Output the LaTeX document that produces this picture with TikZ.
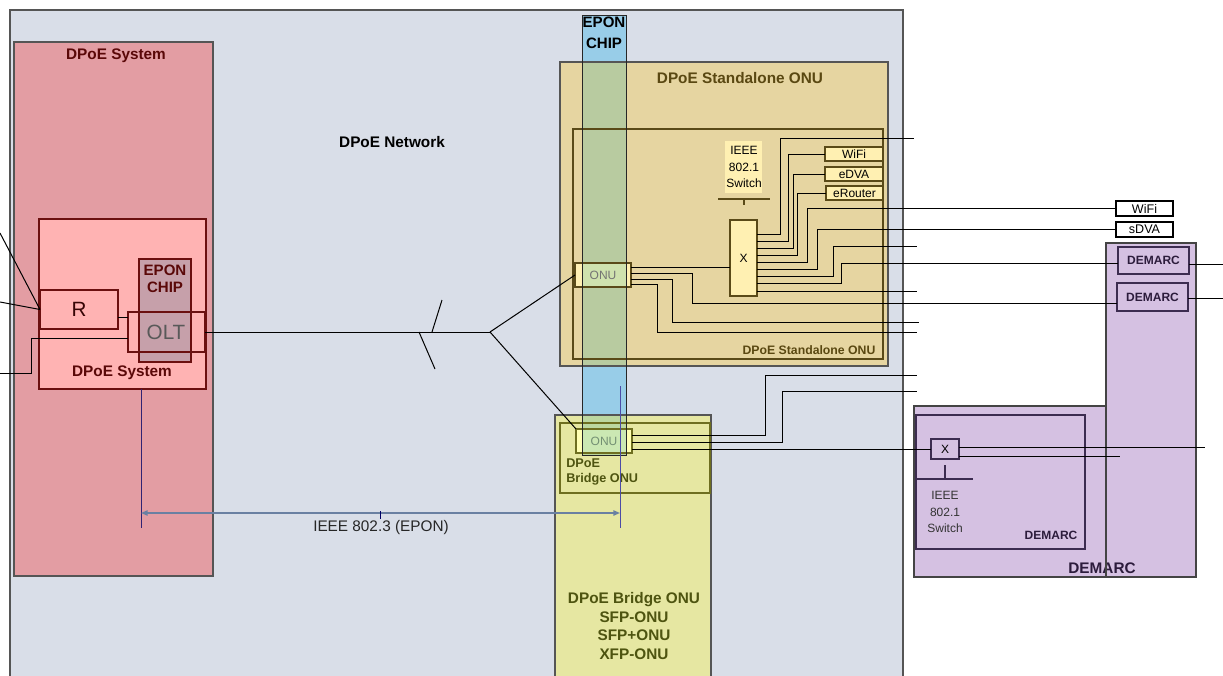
\documentclass[tikz,border=0pt]{standalone}
\usepackage{fontspec}
\setmainfont{Liberation Sans}
\usetikzlibrary{calc,arrows.meta}
\definecolor{frameBG}{HTML}{D9DEE8}
\definecolor{frameBD}{HTML}{555555}
\definecolor{sysOut}{HTML}{E39DA3}
\definecolor{sysIn}{HTML}{FFB3B3}
\definecolor{sysBD}{HTML}{6B1010}
\definecolor{sysTxt}{HTML}{5A0808}
\definecolor{chipLc}{HTML}{C6A0AA}
\definecolor{tanc}{HTML}{E6D5A1}
\definecolor{tanBD}{HTML}{5A4A18}
\definecolor{tanTxt}{HTML}{5A4812}
\definecolor{onuY}{HTML}{FFF0B2}
\definecolor{stripB}{HTML}{98CDE8}
\definecolor{stripG}{HTML}{B8CBA0}
\definecolor{stripGo}{HTML}{CFE2AE}
\definecolor{brY}{HTML}{E6E7A2}
\definecolor{brBD}{HTML}{6E6E20}
\definecolor{brTxt}{HTML}{4E5410}
\definecolor{brONU}{HTML}{FFFFB3}
\definecolor{brONUg}{HTML}{CBE8B3}
\definecolor{stripGb}{HTML}{BCD7A0}
\definecolor{purp}{HTML}{D5C1E2}
\definecolor{purpOBD}{HTML}{444444}
\definecolor{purpBD}{HTML}{3C2C50}
\definecolor{purpTxt}{HTML}{2C1C3C}
\definecolor{dimc}{HTML}{6A80A2}
\newcommand\mybox[6]{\node[#2,inner sep=0pt,outer sep=0pt,minimum width={(#5-#3)*0.75pt},minimum height={(#6-#4)*0.75pt}] (#1) at ({(#3+#5)/2},{(#4+#6)/2}) {};}
\begin{document}
\begin{tikzpicture}[x=0.75pt,y=-0.75pt,
  wire/.style={draw=black,line width=0.75pt},
  lblB/.style={font=\fontsize{11.5}{14}\selectfont\bfseries,inner sep=0pt},
  lblS/.style={font=\fontsize{9.2}{11}\selectfont\bfseries,inner sep=0pt},
  lblN/.style={font=\fontsize{9}{12.6}\selectfont,inner sep=0pt,align=center},
  thinbox/.style={line width=0.8pt}]
\clip (0,0) rectangle (1223,675);
\fill[white] (0,0) rectangle (1223,675);

% network frame
\mybox{net}{draw=frameBD,fill=frameBG,line width=0.9pt}{10}{10}{903}{690}
\node[lblB] (netlbl) at (392,142) {DPoE Network};

% DPoE system
\mybox{sysout}{draw=frameBD,fill=sysOut,thinbox}{14}{42}{213}{576}
\node[lblB,text=sysTxt] (syslbl) at (116,56) {DPoE System};
\mybox{sysin}{draw=sysBD,fill=sysIn,line width=1.1pt}{39}{219}{206}{389}
\mybox{r}{draw=sysBD,thinbox}{40}{290}{118}{329}
\mybox{chipL}{draw=sysBD,fill=chipLc,thinbox}{139}{259}{191}{362}
\mybox{olt}{draw=sysBD,thinbox}{128}{312}{205}{352}
\node[font=\fontsize{15.5}{18}\selectfont,inner sep=0pt,text=sysTxt!60!black] (rl) at (79,309) {R};
\node[font=\fontsize{15.5}{18}\selectfont,inner sep=0pt,text=black!65] (oltl) at (166,332) {OLT};
\node[lblB,text=sysTxt,align=center,font=\fontsize{11.3}{12.8}\selectfont\bfseries] (chipLl) at (165,279) {EPON\\CHIP};
\node[lblB,text=sysTxt] (sysinl) at (122,373) {DPoE System};

% standalone and bridge fills
\mybox{sa}{fill=tanc}{560}{62}{888}{366}
\mybox{br}{fill=brY}{555}{415}{711}{690}
\fill[stripB] (582,15) rectangle (626,455);
\fill[stripG] (582,62) rectangle (626,366);
\fill[stripGb] (582,415) rectangle (626,455);
\draw[frameBD,thinbox] (sa.north west) rectangle (sa.south east);
\draw[frameBD,thinbox] (br.north west) rectangle (br.south east);
\mybox{sain}{draw=tanBD,line width=1.1pt}{573}{129}{883}{359}
\mybox{brin}{draw=brBD,line width=0.9pt}{560}{423}{710}{493}
% ONU boxes
\mybox{onuS}{fill=onuY}{575}{263}{631}{287}
\fill[stripGo] (582,263) rectangle (626,287);
\draw[tanBD,thinbox] (onuS.north west) rectangle (onuS.south east);
\mybox{onuB}{fill=brONU}{576}{429}{632}{453}
\fill[brONUg] (582,429) rectangle (626,453);
\draw[brBD,thinbox] (onuB.north west) rectangle (onuB.south east);
\mybox{chipR}{draw=black!85,line width=0.75pt}{582}{15}{626}{455}
\node[lblB,align=center,font=\fontsize{11.3}{15.5}\selectfont\bfseries] (chipRl) at (604,33) {EPON\\CHIP};
\node[font=\fontsize{9}{11}\selectfont,inner sep=0pt,text=black!55] at (onuS) {ONU};
\node[font=\fontsize{9}{11}\selectfont,inner sep=0pt,text=green!20!black!55] at (onuB) {ONU};
\node[lblB,text=tanTxt] (satitle) at (740,78) {DPoE Standalone ONU};
\node[lblS,text=tanTxt] (sainl) at (809,350) {DPoE Standalone ONU};
\node[lblS,text=brTxt,align=left,font=\fontsize{9.5}{10.8}\selectfont\bfseries,anchor=north west] (brinl) at (566,459) {DPoE\\Bridge ONU};
\node[lblB,text=brTxt,align=center,font=\fontsize{11.5}{13.9}\selectfont\bfseries] (brl) at (634,626) {DPoE Bridge ONU\\SFP-ONU\\SFP+ONU\\XFP-ONU};

% standalone switch
\mybox{swlbl}{fill=onuY}{725}{141}{762}{193}
\node[lblN,font=\fontsize{9}{12.4}\selectfont] at (744,167) {IEEE\\802.1\\Switch};
\coordinate (ta) at (718,199); \coordinate (tb) at (770,199);
\draw[tanBD,line width=0.9pt] (ta) -- (tb) (744,199) -- (744,205);
\mybox{swS}{draw=tanBD,fill=onuY,thinbox}{730}{220}{757}{296}
\node[font=\fontsize{9}{11}\selectfont,inner sep=0pt] at (swS) {X};
\mybox{wifiS}{draw=tanBD,fill=onuY,thinbox}{825}{147}{883}{161}
\mybox{edvaS}{draw=tanBD,fill=onuY,thinbox}{825}{167}{883}{181}
\mybox{erouterS}{draw=tanBD,fill=onuY,thinbox}{826}{186}{883}{200}
\node[font=\fontsize{9}{11}\selectfont,inner sep=0pt] at (wifiS) {WiFi};
\node[font=\fontsize{9}{11}\selectfont,inner sep=0pt] at (edvaS) {eDVA};
\node[font=\fontsize{9}{11}\selectfont,inner sep=0pt] at (erouterS) {eRouter};

% right side boxes
\mybox{wifiR}{draw=black,fill=white,thinbox}{1116}{201}{1173}{216}
\mybox{sdvaR}{draw=black,fill=white,thinbox}{1116}{222}{1173}{237}
\node[font=\fontsize{9.4}{11}\selectfont,inner sep=0pt] at (wifiR) {WiFi};
\node[font=\fontsize{9.4}{11}\selectfont,inner sep=0pt] at (sdvaR) {sDVA};

% DEMARC area
\mybox{dlow}{draw=purpOBD,fill=purp,thinbox}{914}{406}{1106}{577}
\mybox{dtall}{draw=purpOBD,fill=purp,thinbox}{1106}{243}{1196}{577}
\node[lblB,text=purpTxt] (dlowl) at (1102,568) {DEMARC};
\draw[purpOBD,thinbox] (dtall.north west) -- (dtall.south west);
\mybox{dem1}{draw=purpBD,fill=purp,thinbox}{1118}{247}{1189}{274}
\mybox{dem2}{draw=purpBD,fill=purp,thinbox}{1117}{283}{1188}{311}
\node[lblS,font=\fontsize{9}{11}\selectfont\bfseries,text=purpTxt] at (dem1) {DEMARC};
\node[lblS,font=\fontsize{9}{11}\selectfont\bfseries,text=purpTxt] at (dem2) {DEMARC};
\mybox{dinner}{draw=purpBD,line width=1.1pt}{916}{415}{1085}{549}
\node[lblS,font=\fontsize{9}{11}\selectfont\bfseries,text=purpTxt] (dinl) at (1051,535) {DEMARC};
\mybox{swD}{draw=purpBD,thinbox}{931}{439}{959}{459}
\node[font=\fontsize{9}{11}\selectfont,inner sep=0pt] at (swD) {X};
\draw[purpBD,line width=0.9pt] (917,479) -- (973,479) (945,465) -- (945,479);
\node[lblN,text=black!80] at (945,512) {IEEE\\802.1\\Switch};

% ---- connectors ----
% left inputs
\coordinate (a1) at (0,233);
\coordinate (a2) at (0,302);
\coordinate (a3) at (0,373);
\draw[wire] (a1) -- (r.west);
\draw[wire] (a2) -- (r.west);
\draw[wire] (a3) -- (31,373) |- (olt.west |- 0,338);
\draw[wire] (r.east |- 0,317) -- (olt.west |- 0,317);
% PON tree
\coordinate (split) at (490,332);
\draw[wire] (olt.east) -- (split);
\draw[wire] (split) -- (onuS.west);
\draw[wire] (split) -- (onuB.north west);
\coordinate (s1a) at (432,332); \coordinate (s1b) at (442,300);
\coordinate (s2a) at (419,332); \coordinate (s2b) at (435,369);
\draw[wire] (s1a) -- (s1b) (s2a) -- (s2b);

% standalone ONU internal
\draw[wire] (onuS.east |- 0,267) -- (swS.west |- 0,267);
\coordinate (t1) at (914,138);
\coordinate (t2) at (917,246);
\coordinate (t3) at (917,291);
\coordinate (t4) at (919,322);
\coordinate (t5) at (917,332);
\coordinate (t6) at (917,375);
\coordinate (t7) at (917,391);
\coordinate (t8) at (1205,447);
\coordinate (t9) at (1120,456);
\coordinate (t10) at (1223,264);
\coordinate (t11) at (1223,298);
\draw[wire] (swS.east |- 0,234) -- (780,234) |- (t1);
\draw[wire] (swS.east |- 0,241) -- (788,241) |- (wifiS.west);
\draw[wire] (swS.east |- 0,248) -- (793,248) |- (edvaS.west);
\draw[wire] (swS.east |- 0,255) -- (797,255) |- (erouterS.west);
\draw[wire] (swS.east |- 0,262) -- (807,262) |- (wifiR.west);
\draw[wire] (swS.east |- 0,269) -- (817,269) |- (sdvaR.west);
\draw[wire] (swS.east |- 0,276) -- (833,276) |- (t2);
\draw[wire] (swS.east |- 0,283) -- (841,283) |- (dem1.west |- 0,263);
\draw[wire] (swS.east |- 0,291) -- (t3);
\draw[wire] (onuS.east |- 0,273) -- (692,273) |- (dem2.west |- 0,303);
\draw[wire] (onuS.east |- 0,279) -- (672,279) |- (t4);
\draw[wire] (onuS.east |- 0,284) -- (657,284) |- (t5);
% bridge ONU
\draw[wire] (onuB.east |- 0,435) -- (765,435) |- (t6);
\draw[wire] (onuB.east |- 0,442) -- (782,442) |- (t7);
\draw[wire] (onuB.east |- 0,449) -- (swD.west);
% DEMARC outputs
\draw[wire] (swD.east |- 0,447) -- (t8);
\draw[wire] (swD.east |- 0,456) -- (t9);
\draw[wire] (dem1.east |- 0,264) -- (t10);
\draw[wire] (dem2.east |- 0,298) -- (t11);

% EPON dimension
\coordinate (e1) at (141,389); \coordinate (e1b) at (141,528);
\coordinate (e2) at (620,386); \coordinate (e2b) at (620,528);
\draw[draw=purpBD!80!blue,line width=0.6pt] (e1) -- (e1b);
\draw[draw=blue!50!black!70,line width=0.6pt] (e2) -- (e2b);
\draw[dimc,line width=1.1pt,{Triangle[length=5pt,width=4pt]}-{Triangle[length=5pt,width=4pt]}] (141,513) -- (620,513);
\draw[blue!40!black,line width=0.6pt] (380,511) -- (380,519);
\node[font=\fontsize{11.5}{14}\selectfont,inner sep=0pt,text=black!85] (epl) at (381,528) {IEEE 802.3 (EPON)};
\end{tikzpicture}
\end{document}
